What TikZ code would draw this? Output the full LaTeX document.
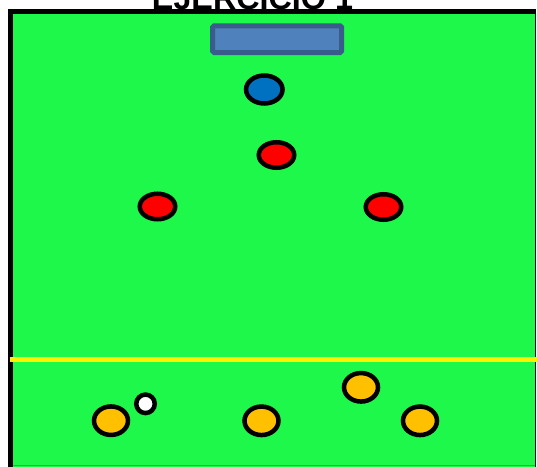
\documentclass[tikz,border=0pt]{standalone}
\usepackage{fontspec}
\setmainfont{Liberation Sans}
\usetikzlibrary{shapes.geometric}
\definecolor{field}{RGB}{30,248,74}
\definecolor{fieldedge}{RGB}{20,190,60}
\definecolor{goalfill}{RGB}{79,129,189}
\definecolor{goaledge}{RGB}{56,93,138}
\definecolor{keeper}{RGB}{0,112,192}
\definecolor{attacker}{RGB}{255,192,0}
\tikzset{
  player/.style={ellipse, draw=black, line width=4.5pt, inner sep=0pt, outer sep=0pt},
  defender/.style={player, fill=red, minimum width=35.5pt, minimum height=25.5pt},
  attack/.style={player, fill=attacker, minimum width=34pt, minimum height=28.5pt},
  goalie/.style={player, fill=keeper, minimum width=36.5pt, minimum height=28pt},
  ballstyle/.style={circle, draw=black, line width=4.5pt, fill=white, minimum size=18.5pt, inner sep=0pt},
  goalbox/.style={draw=goaledge, fill=goalfill, line width=5pt, rounded corners=1.5pt, minimum width=129pt, minimum height=26.7pt, inner sep=0pt},
  titletext/.style={font=\bfseries\fontsize{32.3}{34}\selectfont, inner sep=0pt, anchor=base}
}
\begin{document}
\begin{tikzpicture}[x=1pt,y=-1pt]
\useasboundingbox (0,0) rectangle (537,466);
\clip (0,0) rectangle (537,466);
\fill[white] (0,0) rectangle (537,466);
% field
\fill[field] (10,11.5) rectangle (535.3,470);
\draw[fieldedge, line width=1pt] (12.5,465.5) -- (535,465.5);
\draw[black, line width=5pt] (10,470) -- (10,11.5) -- (535.3,11.5);
\draw[black, line width=1.5pt] (535.3,9) -- (535.3,470);
% title
\node[titletext] (title) at (252.5,9.5) {EJERCICIO 1};
% goal
\node[goalbox] (goal) at (277.1,39.2) {};
% halfway line
\coordinate (lineL) at (10,359.3);
\coordinate (lineR) at (537,359.3);
\draw[yellow, line width=4.8pt] (lineL) -- (lineR);
% players
\node[goalie] (gk) at (264.3,89.5) {};
\node[defender] (d1) at (276.5,155) {};
\node[defender] (d2) at (157.5,206.5) {};
\node[defender] (d3) at (383.5,207) {};
\node[attack] (a1) at (111,420.7) {};
\node[attack] (a2) at (261.5,420.8) {};
\node[attack] (a3) at (361,387.3) {};
\node[attack] (a4) at (420,420.8) {};
\node[ballstyle] (ball) at (145.5,403.8) {};
\end{tikzpicture}
\end{document}
